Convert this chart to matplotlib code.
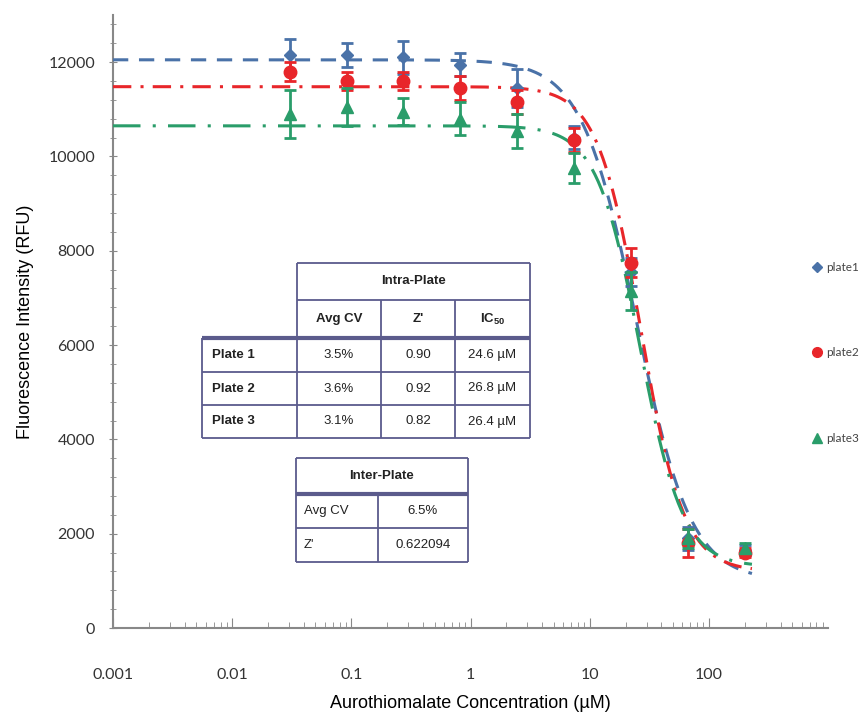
import numpy as np
import matplotlib.pyplot as plt
from matplotlib.lines import Line2D
from matplotlib.ticker import MultipleLocator, FixedLocator, LogLocator, NullFormatter

# concentrations (uM), 3-fold dilution series
conc = [0.0305, 0.0914, 0.274, 0.823, 2.47, 7.41, 22.2, 66.7, 200.0]

plate1 = [12150, 12150, 12100, 11950, 11450, 10400, 7550, 1900, 1650]
plate1_err = [350, 250, 350, 250, 400, 250, 300, 250, 100]
plate2 = [11800, 11600, 11600, 11450, 11150, 10350, 7750, 1800, 1600]
plate2_err = [200, 200, 200, 250, 250, 250, 300, 300, 100]
plate3 = [10900, 11050, 10950, 10800, 10550, 9750, 7150, 1900, 1700]
plate3_err = [500, 400, 290, 350, 360, 320, 400, 200, 100]

# 4PL fit parameters: top, bottom, IC50, hill
fit1 = [12050, 1000, 24.6, 1.9]
fit2 = [11480, 1200, 26.8, 2.4]
fit3 = [10650, 1300, 26.4, 2.4]

xticks = [0.001, 0.01, 0.1, 1, 10, 100]
xtick_lbls = ['0.001', '0.01', '0.1', '1', '10', '100']
yticks = [0, 2000, 4000, 6000, 8000, 10000, 12000]

intra_cols = ['Avg CV', "Z'", r'IC$_{\mathregular{50}}$']
intra_rows = ['Plate 1', 'Plate 2', 'Plate 3']
intra_vals = [['3.5%', '0.90', '24.6 \u00b5M'],
              ['3.6%', '0.92', '26.8 \u00b5M'],
              ['3.1%', '0.82', '26.4 \u00b5M']]
inter_rows = ['Avg CV', "Z'"]
inter_vals = ['6.5%', '0.622094']

c1 = '#4a72a8'
c2 = '#e8262a'
c3 = '#2a9d6a'

fig = plt.figure(figsize=(8.66, 7.15), dpi=100)
ax = fig.add_axes([113/866, 1-628/715, (828-113)/866, (628-15)/715])

def fourpl(x, p):
    top, bot, ic, h = p
    return bot + (top - bot) / (1 + (x / ic) ** h)

xf = np.logspace(-3, np.log10(230), 400)
ax.plot(xf, fourpl(xf, fit1), color=c1, lw=2.2, dashes=(5, 3.5), zorder=3)
ax.plot(xf, fourpl(xf, fit2), color=c2, lw=2.2, dashes=(6, 3, 1, 3), zorder=3)
ax.plot(xf, fourpl(xf, fit3), color=c3, lw=2.2, dashes=(9, 4, 1, 4), zorder=3)

ax.errorbar(conc, plate1, yerr=plate1_err, fmt='D', color=c1, ms=6, capsize=4,
            elinewidth=2, capthick=2, zorder=4)
ax.errorbar(conc, plate2, yerr=plate2_err, fmt='o', color=c2, ms=9, capsize=4,
            elinewidth=2, capthick=2, zorder=5)
ax.errorbar(conc, plate3, yerr=plate3_err, fmt='^', color=c3, ms=9, capsize=4,
            elinewidth=2, capthick=2, zorder=6)

ax.set_xscale('log')
ax.set_xlim(0.001, 1000)
ax.set_ylim(0, 13000)
ax.xaxis.set_major_locator(FixedLocator(xticks))
ax.set_xticklabels(xtick_lbls, fontfamily='Lato', fontsize=11.5, color='#333333')
ax.xaxis.set_minor_locator(LogLocator(base=10, subs=np.arange(2, 10)))
ax.xaxis.set_minor_formatter(NullFormatter())
ax.tick_params(axis='x', which='major', direction='in', length=7, pad=29, color='#888888')
ax.tick_params(axis='x', which='minor', direction='in', length=4, color='#888888')
ax.set_yticks(yticks)
ax.set_yticklabels([str(v) for v in yticks], fontfamily='Lato', fontsize=11.5, color='#333333')
ax.yaxis.set_minor_locator(MultipleLocator(400))
ax.tick_params(axis='y', which='major', direction='inout', length=6, pad=10, color='#888888')
ax.tick_params(axis='y', which='minor', direction='inout', length=4, color='#888888')

for s in ['top', 'right']:
    ax.spines[s].set_visible(False)
for s in ['left', 'bottom']:
    ax.spines[s].set_color('#888888')
    ax.spines[s].set_linewidth(1.5)

fig.text(470/866, 1-703/715, 'Aurothiomalate Concentration (\u00b5M)',
         fontfamily='Liberation Sans', fontsize=13, ha='center', va='center')
ax.set_ylabel('Fluorescence Intensity (RFU)', fontfamily='Liberation Sans',
              fontsize=13, labelpad=10)

handles = [Line2D([], [], ls='none', marker='D', color=c1, ms=5),
           Line2D([], [], ls='none', marker='o', color=c2, ms=7),
           Line2D([], [], ls='none', marker='^', color=c3, ms=7)]
fig.legend(handles, ['plate1', 'plate2', 'plate3'], loc='upper left',
           bbox_to_anchor=(808/866, 1-256/715), frameon=False, labelspacing=6.3,
           handlelength=0.6, handletextpad=0.4, borderpad=0,
           prop={'family': 'Lato', 'size': 8.5}, labelcolor='#444444')

# tables drawn in pixel coordinates on an overlay
ov = fig.add_axes([0, 0, 1, 1], zorder=10)
ov.set_xlim(0, 866)
ov.set_ylim(715, 0)
ov.axis('off')
ov.patch.set_alpha(0)
bc = '#5b5b8c'

def hline(x0, x1, y, lw=1.3):
    ov.plot([x0, x1], [y, y], color=bc, lw=lw, solid_capstyle='butt')

def vline(x, y0, y1, lw=1.3):
    ov.plot([x, x], [y0, y1], color=bc, lw=lw, solid_capstyle='butt')

tfont = dict(family='Liberation Sans', fontsize=9.5, color='#222222', va='center')

# intra-plate table
cx = [297, 381, 455, 530]
ry = [263, 300, 338, 372, 405, 438]
hline(297, 530, 263)
hline(297, 530, 300)
hline(202, 530, 338, lw=3)
hline(202, 530, 372)
hline(202, 530, 405)
hline(202, 530, 438)
vline(202, 338, 438)
vline(297, 263, 438)
vline(530, 263, 438)
vline(381, 300, 438)
vline(455, 300, 438)
ov.text((297+530)/2, (263+300)/2, 'Intra-Plate', ha='center', fontweight='bold', **tfont)
for i, lbl in enumerate(intra_cols):
    ov.text((cx[i]+cx[i+1])/2, (300+338)/2, lbl, ha='center', fontweight='bold', **tfont)
for r, lbl in enumerate(intra_rows):
    yc = (ry[r+2] + ry[r+3]) / 2
    ov.text(212, yc, lbl, ha='left', fontweight='bold', **tfont)
    for i, v in enumerate(intra_vals[r]):
        ov.text((cx[i]+cx[i+1])/2, yc, v, ha='center', **tfont)

# inter-plate table
hline(296, 468, 458)
hline(296, 468, 494, lw=3)
hline(296, 468, 528)
hline(296, 468, 562)
vline(296, 458, 562)
vline(468, 458, 562)
vline(378, 494, 562)
ov.text((296+468)/2, (458+494)/2, 'Inter-Plate', ha='center', fontweight='bold', **tfont)
iy = [494, 528, 562]
for r, lbl in enumerate(inter_rows):
    yc = (iy[r] + iy[r+1]) / 2
    ov.text(304, yc, lbl, ha='left', **tfont)
    ov.text((378+468)/2, yc, inter_vals[r], ha='center', **tfont)

fig.savefig('out.png', dpi=100)
